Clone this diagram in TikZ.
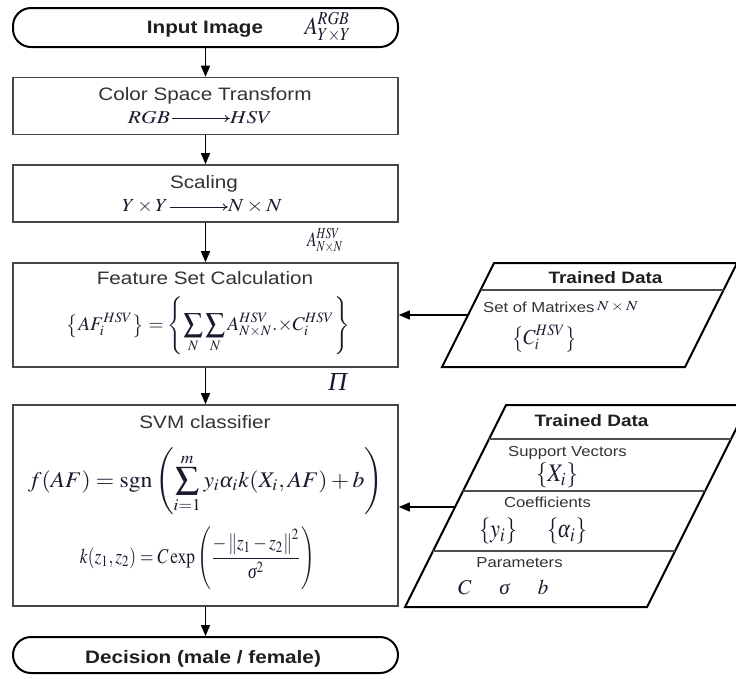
\documentclass[tikz,border=0pt]{standalone}
\usepackage{amsmath}
\usepackage{mathptmx}
\usepackage[no-math]{fontspec}
\setmainfont{Liberation Sans}[FakeStretch=1.15]
\newfontfamily\grk{Liberation Serif}
\usepackage{graphicx}
\usetikzlibrary{arrows.meta}
\newcommand{\fitmath}[3]{\resizebox*{#1pt}{#2pt}{$\displaystyle #3$}}
\newcommand{\gi}[1]{\text{\grk\itshape #1}}
\definecolor{txt}{HTML}{333333}
\definecolor{mth}{HTML}{1A1A2E}
\begin{document}
\begin{tikzpicture}[x=1pt,y=-1pt,
  term/.style={draw=black, line width=2pt, rounded corners=18pt, minimum width=385pt, inner sep=0pt},
  pbox/.style={draw=black!72, line width=1.6pt, minimum width=385pt, inner sep=0pt},
  arr/.style={-{Triangle[length=11pt,width=9pt]}, line width=1.3pt, black},
  marr/.style={-{To[length=5pt,width=7pt]}, line width=0.8pt, mth},
  lbl/.style={font=\fontsize{18}{20}\selectfont, text=txt, anchor=base, inner sep=0pt},
  blbl/.style={font=\bfseries\fontsize{18}{20}\selectfont, text=black!88, anchor=base, inner sep=0pt},
  tlbl/.style={font=\bfseries\fontsize{16.5}{18}\selectfont, text=black!88, anchor=base, inner sep=0pt},
  slbl/.style={font=\fontsize{14.5}{16}\selectfont, text=txt, anchor=base, inner sep=0pt},
  fm/.style={inner sep=0pt, text=mth},
  para/.style={draw=black, line width=2pt, line join=miter},
  sep/.style={draw=black!70, line width=1.4pt}
]
\useasboundingbox (0,0) rectangle (736,678);
\clip (0,0) rectangle (736,678);
\fill[white] (0,0) rectangle (736,678);

% main column
\node[term, minimum height=39pt] (in) at (205.5,27.5) {};
\node[pbox, minimum height=57pt] (cs) at (205.5,106) {};
\node[pbox, minimum height=57pt] (sc) at (205.5,193.5) {};
\node[pbox, minimum height=104pt] (fs) at (205.5,315) {};
\node[pbox, minimum height=201pt] (svm) at (205.5,505.5) {};
\node[term, minimum height=36pt] (dec) at (205.5,655) {};

\draw[arr] (in.south) -- (cs.north);
\draw[arr] (cs.south) -- (sc.north);
\draw[arr] (sc.south) -- (fs.north);
\draw[arr] (fs.south) -- (svm.north);
\draw[arr] (svm.south) -- (dec.north);

% labels in main column
\node[blbl] (inT) at (205,33) {Input Image};
\node[fm] (inA) at (328,27) {\fitmath{47}{30}{A^{RGB}_{Y\times Y}}};
\node[lbl] (csT) at (205,100) {Color Space Transform};
\node[fm] (rgb) at (149,118) {\fitmath{42}{12.5}{RGB}};
\node[fm] (hsv) at (251,118) {\fitmath{42}{12.5}{HSV}};
\draw[marr] (rgb.east) ++(2,0.5) coordinate (r1) -- (r1 -| hsv.west);
\node[lbl] (scT) at (204,188) {Scaling};
\node[fm] (yy) at (145,206.7) {\fitmath{46}{13.5}{Y\times Y}};
\node[fm] (nn) at (255,206.7) {\fitmath{54}{13.5}{N\times N}};
\draw[marr] (yy.east) ++(2,0.3) coordinate (y1) -- (y1 -| nn.west);
\node[fm] (aHSV) at (325,240.5) {\fitmath{36}{25}{A^{HSV}_{N\times N}}};
\node[lbl] (fsT) at (205,284) {Feature Set Calculation};
\node[fm] (fsM) at (208.5,326) {\fitmath{283}{58}{\left\{AF_i^{HSV}\right\}=\left\{\sum_N\sum_N A^{HSV}_{N\times N}.{\times}C_i^{HSV}\right\}}};
\node[fm] (pi) at (337.5,381.5) {\fitmath{19}{17}{\gi{Π}}};
\node[lbl] (svmT) at (205,428) {SVM classifier};
\node[fm] (svmM) at (205.5,481.5) {\fitmath{355}{67}{f(AF)=\operatorname{sgn}\left(\sum_{i=1}^{m}y_i\gi{α}_i k(X_i,AF)+b\right)}};
\node[fm] (kM) at (197.5,558.5) {\fitmath{235}{63}{k(z_1,z_2)=C\exp\left(\frac{-\left\|z_1-z_2\right\|^2}{\gi{σ}^2}\right)}};
\node[blbl] (decT) at (203,663) {Decision (male / female)};

% trained data 1
\draw[para] (494,263) -- (737,263) -- (685,367) -- (442,367) -- cycle;
\draw[sep] (480.5,290) -- (723.5,290);
\node[tlbl] (td1) at (605.5,283) {Trained Data};
\node[slbl, anchor=base west] (som) at (483,312) {Set of Matrixes};
\node[fm] (somN) at (617.5,307) {\fitmath{41}{10}{N\times N}};
\node[fm] (cset) at (544.5,338.5) {\fitmath{65}{27}{\left\{C_i^{HSV}\right\}}};
\coordinate (t1) at (468,315);
\draw[arr] (t1) -- (t1 -| fs.east);

% trained data 2
\draw[para] (506,405) -- (748,405) -- (647,607) -- (405,607) -- cycle;
\draw[sep] (489,439) -- (731,439);
\draw[sep] (463,491) -- (705,491);
\draw[sep] (433,551) -- (675,551);
\node[tlbl] (td2) at (591.5,426) {Trained Data};
\node[slbl] (sv) at (567.5,456) {Support Vectors};
\node[fm] (xset) at (557,475.5) {\fitmath{42}{25}{\{X_i\}}};
\node[slbl] (co) at (547.5,507) {Coefficients};
\node[fm] (yset) at (498,531) {\fitmath{38}{26}{\{y_i\}}};
\node[fm] (aset) at (567,531) {\fitmath{40}{26}{\{\gi{α}_i\}}};
\node[slbl] (pa) at (519.5,567) {Parameters};
\node[fm, anchor=base, font=\fontsize{21}{22}\selectfont] (pC) at (465,594) {$C$};
\node[fm, anchor=base, font=\fontsize{21}{22}\selectfont] (pS) at (504.5,594) {$\gi{σ}$};
\node[fm, anchor=base, font=\fontsize{21}{22}\selectfont] (pB) at (543,594) {$b$};
\coordinate (t2) at (455,507);
\draw[arr] (t2) -- (t2 -| svm.east);
\end{tikzpicture}
\end{document}
